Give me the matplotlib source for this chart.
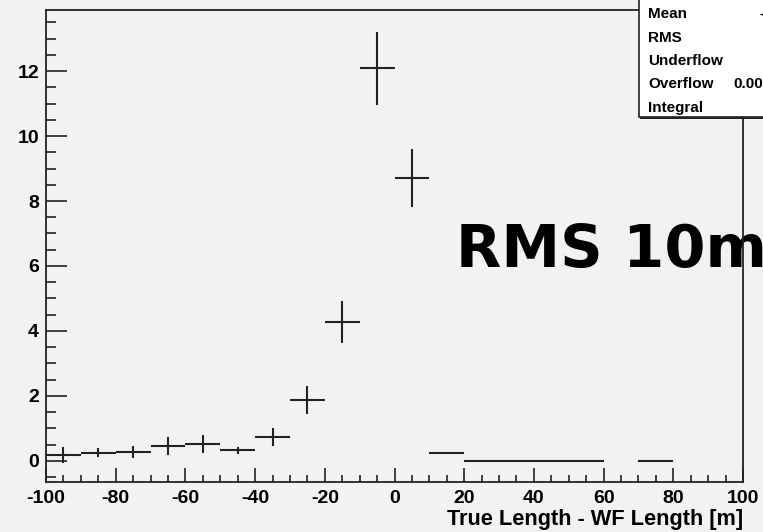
import numpy as np
import matplotlib
matplotlib.use('Agg')
import matplotlib.pyplot as plt
from matplotlib.ticker import MultipleLocator
from matplotlib.patches import Rectangle

plt.rcParams['axes.unicode_minus'] = False

# bin centres (10 m bins), contents and errors
centres = [-95, -85, -75, -65, -55, -45, -35, -25, -15, -5, 5, 15, 25, 35, 45, 55, 65, 75, 85, 95]
counts = [0.18, 0.255, 0.28, 0.46, 0.52, 0.32, 0.73, 1.88, 4.27, 12.08, 8.71, 0.24,
          0, 0, 0, 0, np.nan, 0, np.nan, np.nan]
errors = [0.25, 0.14, 0.18, 0.28, 0.27, 0.11, 0.27, 0.43, 0.65, 1.13, 0.89, 0.04,
          0, 0, 0, 0, np.nan, 0, np.nan, np.nan]
bin_half = 5

stat_names = ['Mean', 'RMS', 'Underflow', 'Overflow', 'Integral']
stat_values = ['-1.37', '10.02', '0', '0.000e+00', '30.13']

W, H = 763, 532
bg = '#f2f2f2'
ink = '#222222'

fig = plt.figure(figsize=(W / 100, H / 100), dpi=100, facecolor=bg)
ax = fig.add_axes([46 / W, 1 - 482 / H, (743 - 46) / W, (482 - 10) / H], facecolor=bg)

x = np.array(centres, dtype=float)
y = np.array(counts, dtype=float)
e = np.array(errors, dtype=float)
ok = ~np.isnan(y)
ax.errorbar(x[ok], y[ok], xerr=bin_half, yerr=e[ok], fmt='none',
            ecolor=ink, elinewidth=1.5, capsize=0)

ax.set_xlim(-100, 100)
ax.set_ylim(-0.65, 13.88)
ax.xaxis.set_major_locator(MultipleLocator(20))
ax.xaxis.set_minor_locator(MultipleLocator(5))
ax.yaxis.set_major_locator(MultipleLocator(2))
ax.yaxis.set_minor_locator(MultipleLocator(0.5))

ax.tick_params(axis='x', which='major', direction='in', length=10, width=1.2, colors=ink, pad=6)
ax.tick_params(axis='x', which='minor', direction='in', length=5, width=1.2, colors=ink)
ax.tick_params(axis='y', which='major', direction='in', length=15, width=1.2, colors=ink, pad=5)
ax.tick_params(axis='y', which='minor', direction='in', length=7.5, width=1.2, colors=ink)
for lab in ax.get_xticklabels() + ax.get_yticklabels():
    lab.set_fontfamily('Liberation Sans')
    lab.set_fontweight('bold')
    lab.set_fontsize(14)
    lab.set_color('black')
for sp in ax.spines.values():
    sp.set_color(ink)
    sp.set_linewidth(1.3)
    sp.set_zorder(4)

ax.set_xlabel('True Length - WF Length [m]', fontfamily='Liberation Sans', fontweight='bold',
              fontsize=15.7, ha='right', x=1.0, labelpad=1)

# big annotation
ax.text(456 / W, 1 - 267 / H, 'RMS 10m', transform=fig.transFigure, fontfamily='DejaVu Sans',
        fontweight='bold', fontsize=42.5, ha='left', va='baseline', color='black', zorder=2)

# stats box, running off the right edge
fig.patches.append(Rectangle((640 / W, 1 - 119 / H), 200 / W, 130 / H, transform=fig.transFigure,
                             facecolor=ink, edgecolor='none', zorder=5))
fig.patches.append(Rectangle((639 / W, 1 - 117 / H), 200 / W, 130 / H, transform=fig.transFigure,
                             facecolor='white', edgecolor=ink, linewidth=1.2, zorder=6))
val_x = [759, 766, 770, 733, 768]
for i, (name, val) in enumerate(zip(stat_names, stat_values)):
    yb = 1 - (18.5 + 23.3 * i) / H
    fig.text(648 / W, yb, name, fontfamily='Liberation Sans', fontweight='bold', fontsize=11,
             va='baseline', zorder=7)
    fig.text(val_x[i] / W, yb, val, fontfamily='Liberation Sans', fontweight='bold', fontsize=11,
             va='baseline', zorder=7)

fig.savefig('out.png', dpi=100, facecolor=bg)
